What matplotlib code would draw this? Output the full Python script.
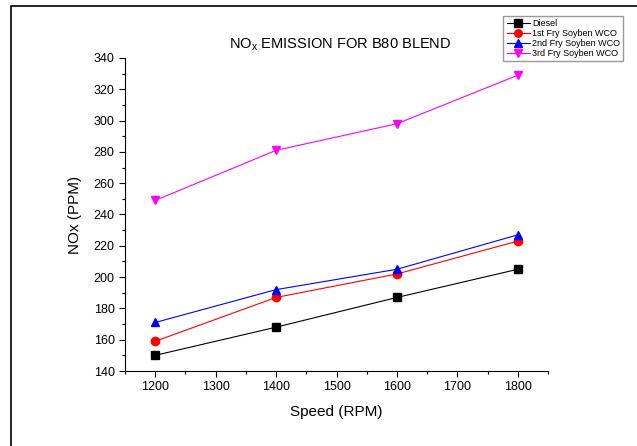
import numpy as np
import matplotlib.pyplot as plt
from matplotlib.patches import Rectangle

plt.rcParams['font.family'] = ['Liberation Sans', 'DejaVu Sans']

speed = [1200, 1400, 1600, 1800]
diesel = [150, 168, 187, 205]
fry1 = [159, 187, 202, 223]
fry2 = [171, 192, 205, 227]
fry3 = [249, 281, 298, 329]

series = [
    ('Diesel', diesel, 'black', 's'),
    ('1st Fry Soyben WCO', fry1, 'red', 'o'),
    ('2nd Fry Soyben WCO', fry2, 'blue', '^'),
    ('3rd Fry Soyben WCO', fry3, 'magenta', 'v'),
]

fig = plt.figure(figsize=(6.37, 4.46), dpi=100)
# outer frame of the original picture
fig.patches.append(Rectangle((11/637, -0.1), 1.2, 1 - 6/446 + 0.1, transform=fig.transFigure,
                             fill=False, edgecolor='black', linewidth=1.2))

ax = fig.add_axes([125/637, 1 - 371/446, 423/637, 313/446])
for name, vals, col, mk in series:
    ax.plot(speed, vals, color=col, marker=mk, markersize=6, linewidth=0.8, label=name)

ax.set_xlim(1150, 1850)
ax.set_ylim(140, 340)
ax.set_xticks(np.arange(1200, 1801, 100))
ax.set_xticks(np.arange(1150, 1851, 50), minor=True)
ax.set_yticks(np.arange(140, 341, 20))
ax.set_yticks(np.arange(140, 341, 10), minor=True)
ax.tick_params(direction='out', labelsize=9, length=4, width=0.8)
ax.tick_params(which='minor', direction='out', length=2.5, width=0.8)
for s in ['top', 'right']:
    ax.spines[s].set_visible(False)

ax.set_xlabel('Speed (RPM)', fontsize=11, labelpad=8)
ax.set_ylabel('NOx (PPM)', fontsize=11, labelpad=8)
fig.text(340/637, 1 - 45/446, 'NO$_\\mathregular{x}$ EMISSION FOR B80 BLEND', ha='center', va='center', fontsize=10.5)

fig.legend(loc='upper right', bbox_to_anchor=(628/637, 1 - 11/446), fontsize=6.5,
           markerscale=0.9, handlelength=2.6, handletextpad=0.2, borderpad=0.4,
           labelspacing=0.1, frameon=True, fancybox=False, edgecolor='gray')

fig.savefig('out.png', dpi=100)
